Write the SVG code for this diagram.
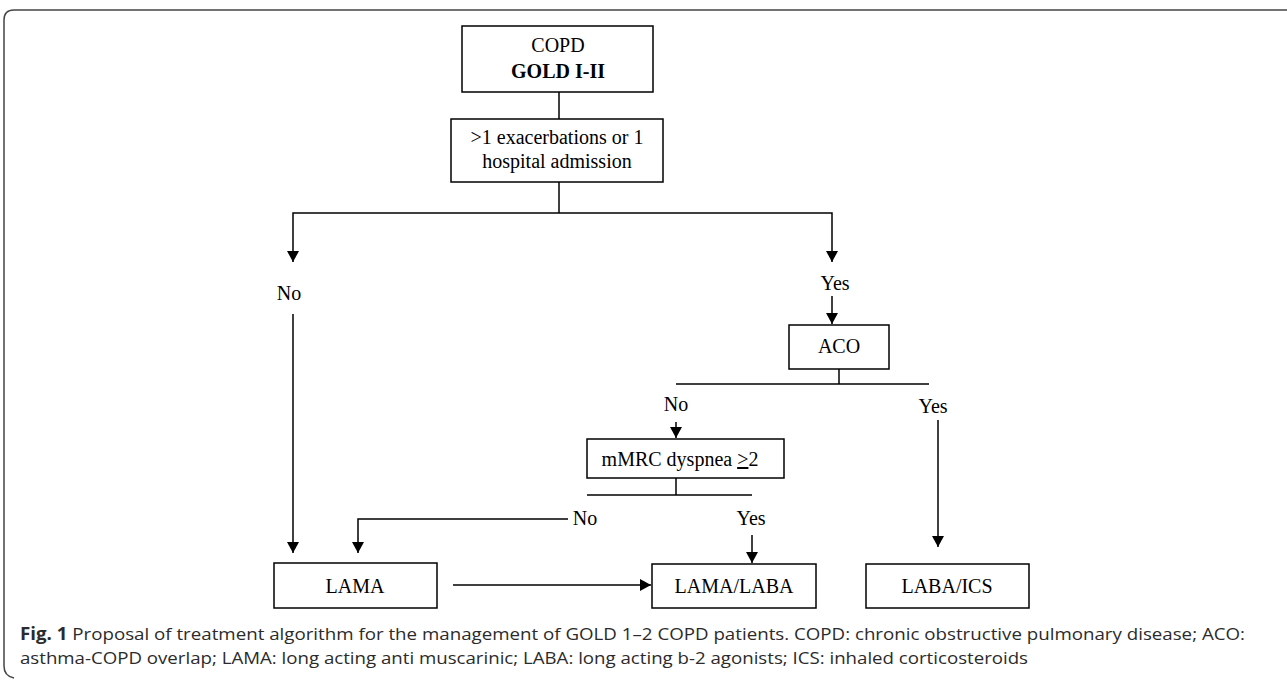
<svg xmlns="http://www.w3.org/2000/svg" width="1287" height="680" viewBox="0 0 1287 680">
<style>
.box{fill:#fff;stroke:#000;stroke-width:1.5}
.t{font-family:"Liberation Serif","Times New Roman",serif;font-size:20px;fill:#000;text-anchor:middle}
.b{font-weight:bold}
.ln{fill:none;stroke:#000;stroke-width:1.5}
.ar{fill:none;stroke:#000;stroke-width:1.5;marker-end:url(#ah)}
.cap{font-family:"Open Sans","Noto Sans","Liberation Sans",sans-serif;font-size:17px;fill:#2b2b2b}
</style>
<defs>
<marker id="ah" markerUnits="userSpaceOnUse" markerWidth="11" markerHeight="12" refX="11" refY="6" orient="auto" viewBox="0 0 11 12">
<path d="M0,0 L11,6 L0,12 Z" fill="#000"/>
</marker>
</defs>
<rect width="1287" height="680" fill="#fff"/>
<path d="M1287,10 H14 Q4,10 4,20 V666 Q4,676 14,678" fill="none" stroke="#444" stroke-width="1.5"/>

<g id="copd">
<rect class="box" x="462" y="26" width="191" height="66"/>
<text class="t" x="558" y="52">COPD</text>
<text class="t b" x="558" y="78">GOLD I-II</text>
</g>
<g id="exac">
<rect class="box" x="451" y="119" width="212" height="63"/>
<text class="t" x="557" y="144">&gt;1 exacerbations or 1</text>
<text class="t" x="557" y="168">hospital admission</text>
</g>
<g id="aco">
<rect class="box" x="789" y="325" width="100" height="44"/>
<text class="t" x="839" y="353">ACO</text>
</g>
<g id="mmrc">
<rect class="box" x="587" y="439" width="197" height="39"/>
<text class="t" x="680" y="466">mMRC dyspnea <tspan text-decoration="underline">&gt;</tspan>2</text>
</g>
<g id="lama">
<rect class="box" x="274" y="563" width="163" height="45"/>
<text class="t" x="355" y="593">LAMA</text>
</g>
<g id="lamalaba">
<rect class="box" x="652" y="564" width="164" height="44"/>
<text class="t" x="734" y="593">LAMA/LABA</text>
</g>
<g id="labaics">
<rect class="box" x="866" y="564" width="163" height="44"/>
<text class="t" x="947" y="593">LABA/ICS</text>
</g>

<g id="connectors">
<path class="ln" d="M559,92 V119"/>
<path class="ln" d="M559,182 V213"/>
<path class="ar" d="M559,213 H293 V262"/>
<path class="ar" d="M559,213 H832 V262"/>
<text class="t" x="289" y="300">No</text>
<text class="t" x="835" y="290">Yes</text>
<path class="ar" d="M293,314 V553"/>
<path class="ar" d="M832,296 V324"/>
<path class="ln" d="M839,369 V384"/>
<path class="ln" d="M676,384 H929"/>
<text class="t" x="676" y="411">No</text>
<text class="t" x="933" y="413">Yes</text>
<path class="ar" d="M676,422 V438"/>
<path class="ar" d="M938,420 V547"/>
<path class="ln" d="M676,478 V495"/>
<path class="ln" d="M587,495 H752"/>
<text class="t" x="585" y="525">No</text>
<text class="t" x="751" y="525">Yes</text>
<path class="ar" d="M568,519 H358 V553"/>
<path class="ar" d="M752,535 V563"/>
<path class="ar" d="M453,585 H651"/>
</g>

<text class="cap" x="20" y="640" textLength="1225" lengthAdjust="spacingAndGlyphs"><tspan font-weight="bold">Fig. 1</tspan> Proposal of treatment algorithm for the management of GOLD 1–2 COPD patients. COPD: chronic obstructive pulmonary disease; ACO:</text>
<text class="cap" x="20" y="664" textLength="1008" lengthAdjust="spacingAndGlyphs">asthma-COPD overlap; LAMA: long acting anti muscarinic; LABA: long acting b-2 agonists; ICS: inhaled corticosteroids</text>
</svg>
